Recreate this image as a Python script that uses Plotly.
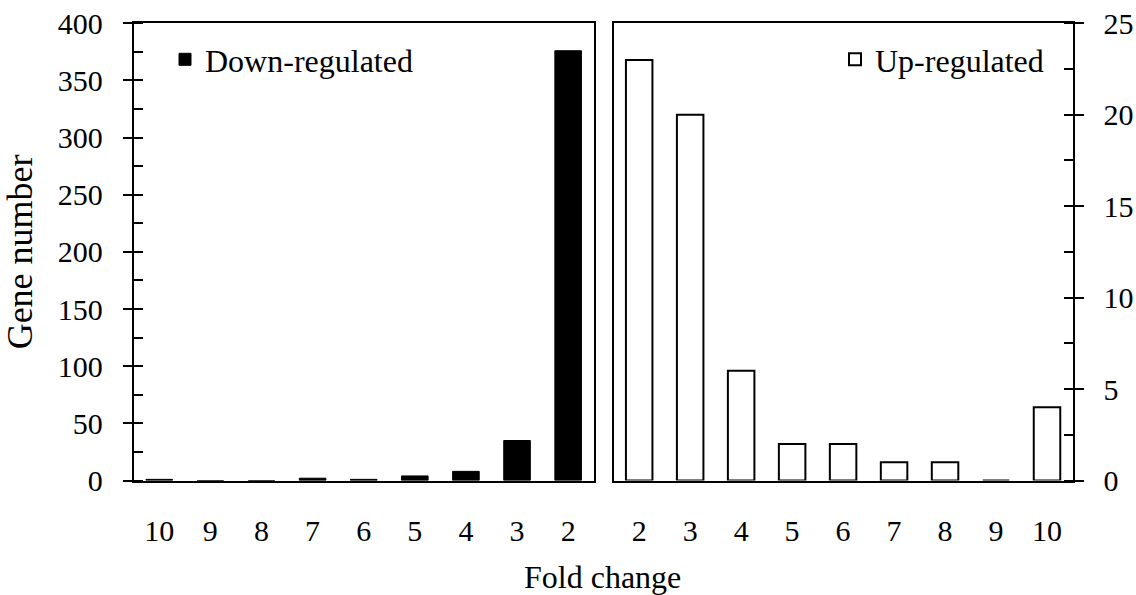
import plotly.graph_objects as go

# ---- data ----
down_categories = ["10", "9", "8", "7", "6", "5", "4", "3", "2"]
down_values = [1, 0, 0, 2, 1, 4, 8, 35, 376]
up_categories = ["2", "3", "4", "5", "6", "7", "8", "9", "10"]
up_values = [23, 20, 6, 2, 2, 1, 1, 0, 4]
left_ticks = [0, 50, 100, 150, 200, 250, 300, 350, 400]
right_ticks = [0, 5, 10, 15, 20, 25]

W, H = 1136, 595
FONT = "Liberation Serif"

def px_x(p):
    return p / W

def px_y(p):
    return 1 - p / H

xd1 = [px_x(133.7), px_x(593.7)]
xd2 = [px_x(613.7), px_x(1072.5)]
yd = [px_y(480.5), px_y(23.3)]

fig = go.Figure()
fig.add_trace(go.Bar(
    x=down_categories, y=down_values, name="Down-regulated",
    marker=dict(color="black", line=dict(color="black", width=1)),
    xaxis="x", yaxis="y", legend="legend", width=0.52, showlegend=True,
))
fig.add_trace(go.Bar(
    x=up_categories, y=up_values, name="Up-regulated",
    marker=dict(color="white", line=dict(color="black", width=2)),
    xaxis="x2", yaxis="y2", legend="legend2", width=0.52, showlegend=True,
))

axis_common = dict(showline=True, linecolor="black", linewidth=2, mirror=True,
                   showgrid=False, zeroline=False, automargin=False)
tickfont = dict(family=FONT, size=30, color="black")

fig.update_layout(
    width=W, height=H,
    margin=dict(l=0, r=0, t=0, b=0, autoexpand=False),
    paper_bgcolor="white", plot_bgcolor="white",
    font=dict(family=FONT, color="black"),
    showlegend=True,
    bargap=0.48,
    xaxis=dict(domain=xd1, anchor="y", type="category", ticks="",
               tickfont=tickfont, ticklabelstandoff=22, **axis_common),
    xaxis2=dict(domain=xd2, anchor="y2", type="category", ticks="",
                tickfont=tickfont, ticklabelstandoff=22, **axis_common),
    yaxis=dict(domain=yd, anchor="x", range=[0, 400], tickvals=left_ticks,
               ticks="outside", ticklen=9, tickwidth=2, tickcolor="black",
               minor=dict(ticks="inside", dtick=25, ticklen=9, tickwidth=2, tickcolor="black"),
               tickfont=tickfont, ticklabelstandoff=14,
               title=dict(text="Gene number", font=dict(family=FONT, size=36), standoff=14),
               **axis_common),
    yaxis3=dict(domain=yd, anchor="x", overlaying="y", range=[0, 400], tickvals=left_ticks,
                ticks="inside", ticklen=9, tickwidth=2, tickcolor="black",
                showticklabels=False, showline=False, showgrid=False, zeroline=False),
    yaxis2=dict(domain=yd, anchor="x2", side="right", range=[0, 25], tickvals=right_ticks,
                ticks="outside", ticklen=9, tickwidth=2, tickcolor="black",
                minor=dict(ticks="inside", dtick=2.5, ticklen=9, tickwidth=2, tickcolor="black"),
                tickfont=tickfont, ticklabelstandoff=14, **axis_common),
    yaxis4=dict(domain=yd, anchor="x2", overlaying="y2", side="right", range=[0, 25],
                tickvals=right_ticks, ticks="inside", ticklen=9, tickwidth=2, tickcolor="black",
                showticklabels=False, showline=False, showgrid=False, zeroline=False),
    legend=dict(x=px_x(165), y=px_y(32), xanchor="left", yanchor="top",
                font=dict(family=FONT, size=32), bgcolor="rgba(0,0,0,0)", borderwidth=0),
    legend2=dict(x=px_x(835), y=px_y(32), xanchor="left", yanchor="top",
                 font=dict(family=FONT, size=32), bgcolor="rgba(0,0,0,0)", borderwidth=0),
    annotations=[dict(text="Fold change", xref="paper", yref="paper",
                      x=px_x(602), y=px_y(577), xanchor="center", yanchor="middle",
                      showarrow=False, font=dict(family=FONT, size=32))],
)

fig.write_html("out.html", config={"displayModeBar": False},
               post_script="document.body.style.margin='0';document.body.style.overflow='hidden';")
